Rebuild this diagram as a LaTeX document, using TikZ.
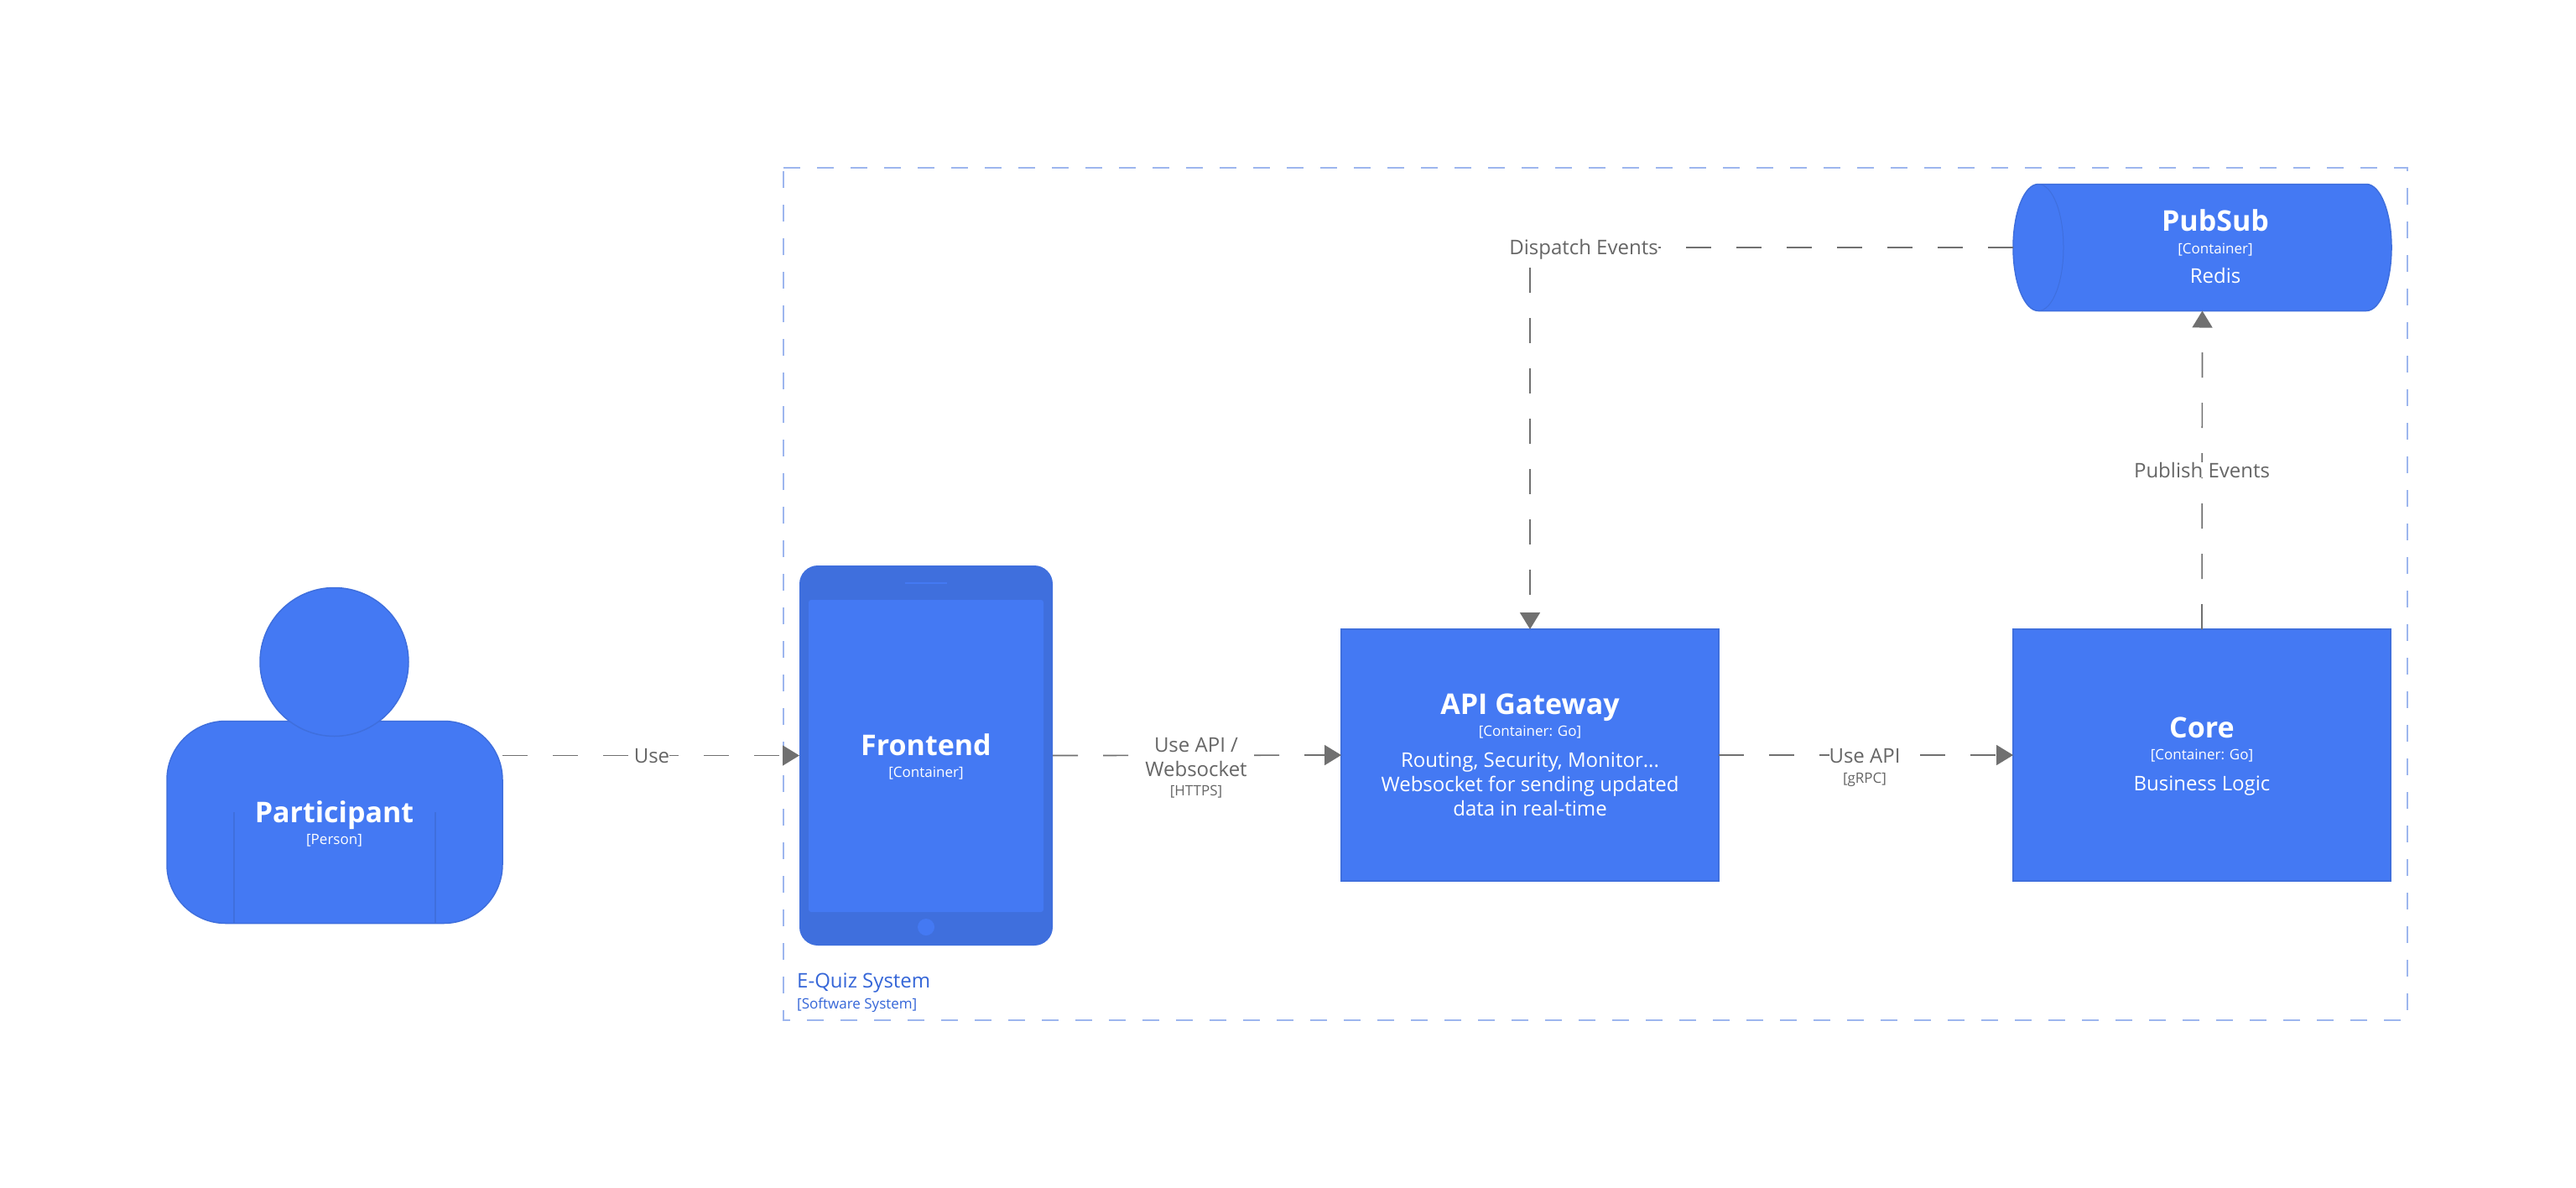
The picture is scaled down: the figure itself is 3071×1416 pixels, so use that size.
\documentclass[tikz,border=0pt]{standalone}
\usepackage{fontspec}
\setmainfont{Open Sans}
\usetikzlibrary{arrows.meta,calc}
\definecolor{cblue}{HTML}{4479F3}
\definecolor{cedge}{HTML}{3F6FDD}
\definecolor{cdark}{HTML}{3F6FDD}
\definecolor{cgray}{HTML}{707070}
\definecolor{clabel}{HTML}{666666}
\definecolor{cbound}{HTML}{9DB6EE}
\definecolor{ctxt}{HTML}{3566D8}
\newcommand{\ttl}{\fontsize{34}{40}\selectfont\bfseries}
\newcommand{\tch}{\fontsize{17}{22}\selectfont}
\newcommand{\dsc}{\fontsize{24}{29}\selectfont}
\tikzset{
  x=1pt,y=-1pt,
  shapebox/.style={draw=cedge,line width=1.5pt,fill=cblue,outer sep=0pt,inner sep=0pt},
  txt/.style={text=white,anchor=base,inner sep=0pt,outer sep=0pt},
  lbl/.style={text=clabel,fill=white,inner sep=0pt,outer sep=0pt,align=center},
  tech/.style={text=clabel,anchor=base,inner sep=0pt,font=\tch},
  rel/.style={draw=cgray,line width=1.7pt,dash pattern=on 30pt off 30pt,-{Triangle[length=20pt,width=24pt]}},
}
\begin{document}
\begin{tikzpicture}
\useasboundingbox[fill=white] (0,0) rectangle (3071,1416);
% boundary
\draw[cbound,line width=2pt,dash pattern=on 20pt off 20pt] (934,200) -- (2870,200) -- (2870,1216) -- (934,1216) -- cycle;
\node[anchor=base west,inner sep=0pt,text=ctxt,font=\dsc] (bname) at (950,1177) {E-Quiz System};
\node[anchor=base west,inner sep=0pt,text=ctxt,font=\tch] (btech) at (950,1202) {[Software System]};
% person
\node[shapebox,rounded corners=70pt,minimum width=400pt,minimum height=241pt] (participant) at (399,980) {};
\draw[cedge,line width=1.5pt] (279,968) -- (279,1100);
\draw[cedge,line width=1.5pt] (519,968) -- (519,1100);
\node[shapebox,circle,minimum size=177pt] (head) at (398.5,789) {};
\node[txt,font=\ttl] (t1) at (398.5,980) {Participant};
\node[txt,font=\tch] (t2) at (398.5,1006) {[Person]};
% tablet
\node[fill=cdark,rounded corners=22pt,minimum width=302pt,minimum height=453pt,inner sep=0pt,outer sep=0pt] (frontend) at (1104,900.5) {};
\node[fill=cblue,rounded corners=3pt,minimum width=280pt,minimum height=372pt,inner sep=0pt,outer sep=0pt] (screen) at (1104,901) {};
\node[draw=none,fill=cblue,minimum width=50pt,minimum height=2pt,inner sep=0pt] (speaker) at (1104,695) {};
\node[circle,fill=cblue,minimum size=20pt,inner sep=0pt] (homebtn) at (1104,1105) {};
\node[txt,font=\ttl] (t3) at (1104,900) {Frontend};
\node[txt,font=\tch] (t4) at (1104,926) {[Container]};
% api
\node[shapebox,minimum width=450pt,minimum height=300pt] (api) at (1824,900) {};
\node[txt,font=\ttl] (t5) at (1824,851) {API Gateway};
\node[txt,font=\tch] (t6) at (1824,877) {[Container: Go]};
\node[txt,font=\dsc] (t7) at (1824,914) {Routing, Security, Monitor...};
\node[txt,font=\dsc] (t8) at (1824,943) {Websocket for sending updated};
\node[txt,font=\dsc] (t9) at (1824,972) {data in real-time};
% core
\node[shapebox,minimum width=450pt,minimum height=300pt] (core) at (2625,900) {};
\node[txt,font=\ttl] (t10) at (2625,879) {Core};
\node[txt,font=\tch] (t11) at (2625,905) {[Container: Go]};
\node[txt,font=\dsc] (t12) at (2625,942) {Business Logic};
% pubsub
\draw[draw=cedge,line width=1.5pt,fill=cblue] (2430,219.5) -- (2821,219.5)
  .. controls (2837.6,219.5) and (2851,253) .. (2851,295)
  .. controls (2851,337) and (2837.6,370.5) .. (2821,370.5)
  -- (2430,370.5)
  .. controls (2413.4,370.5) and (2400,337) .. (2400,295)
  .. controls (2400,253) and (2413.4,219.5) .. (2430,219.5) -- cycle;
\draw[cedge,line width=1pt] (2430,219.5)
  .. controls (2446.6,219.5) and (2460,253) .. (2460,295)
  .. controls (2460,337) and (2446.6,370.5) .. (2430,370.5);
\node[inner sep=0pt,outer sep=0pt,minimum width=451pt,minimum height=151pt] (pubsub) at (2625.5,295) {};
\node[txt,font=\ttl] (t13) at (2641,275) {PubSub};
\node[txt,font=\tch] (t14) at (2641,302) {[Container]};
\node[txt,font=\dsc] (t15) at (2641,337) {Redis};
% connectors
\draw[rel] (participant.east |- frontend.west) -- (frontend.west);
\node[lbl,font=\dsc] (l1) at (777,901) {Use};
\draw[rel] (frontend.east) -- (api.west);
\node[lbl,font=\dsc,minimum width=125pt] (l2) at (1426,903) {Use API /\\Websocket};
\node[tech] (l2b) at (1426,948) {[HTTPS]};
\draw[rel] (api.east) -- (core.west);
\node[lbl,font=\dsc] (l3) at (2223,901) {Use API};
\node[tech] (l3b) at (2223,933) {[gRPC]};
\draw[rel] (pubsub.west) -| (api.north);
\node[lbl,font=\dsc] (l4) at (1888,297) {Dispatch Events};
\draw[rel] (core.north) -- (pubsub.south);
\node[lbl,font=\dsc] (l5) at (2625,560) {Publish Events};
\end{tikzpicture}
\end{document}
